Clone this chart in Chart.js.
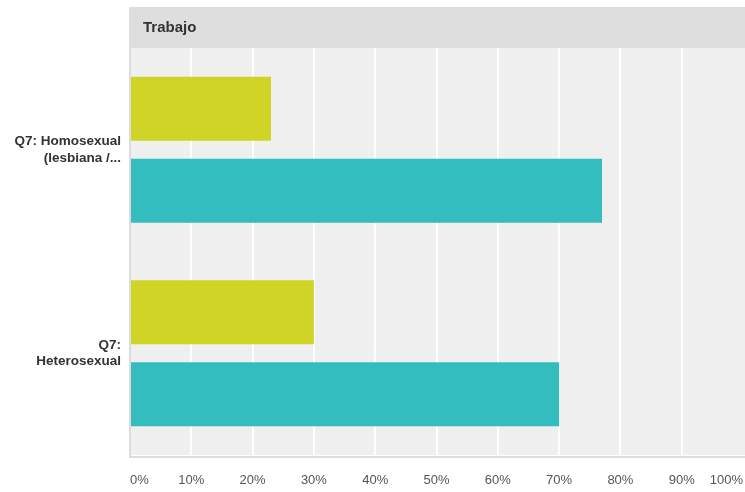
<!DOCTYPE html>
<html>
<head>
<meta charset="utf-8">
<script src="https://cdn.jsdelivr.net/npm/chart.js@4/dist/chart.umd.min.js"></script>
<style>
  html, body { margin: 0; padding: 0; background: #ffffff; }
  #wrap { position: relative; width: 745px; height: 492px; }
</style>
</head>
<body>
<div id="wrap"><canvas id="c" width="745" height="492"></canvas></div>
<script>
const headerTitle = 'Trabajo';
const categories = [['Q7: Homosexual', '(lesbiana /...'], ['Q7:', 'Heterosexual']];
const seriesNames = ['Respuesta A', 'Respuesta B'];
const seriesA = [23, 30];
const seriesB = [77, 70];
const xTicks = [0, 10, 20, 30, 40, 50, 60, 70, 80, 90, 100];

const headerPlugin = {
  id: 'header',
  beforeDraw(chart) {
    const ctx = chart.ctx, a = chart.chartArea;
    ctx.save();
    ctx.fillStyle = '#efefef';
    ctx.fillRect(a.left, a.top, chart.width - a.left, a.bottom - a.top);
    ctx.fillStyle = '#dedede';
    ctx.fillRect(a.left - 1, 7, chart.width - a.left + 1, a.top - 7);
    ctx.fillStyle = '#333333';
    ctx.font = 'bold 15px "Liberation Sans", Arial, sans-serif';
    ctx.textBaseline = 'alphabetic';
    ctx.textAlign = 'left';
    ctx.fillText(headerTitle, a.left + 13, 32);
    ctx.restore();
  },
  afterDatasetsDraw(chart) {
    const ctx = chart.ctx, a = chart.chartArea;
    ctx.save();
    ctx.strokeStyle = '#dcdcdc';
    ctx.lineWidth = 2;
    ctx.beginPath();
    ctx.moveTo(a.left, a.top);
    ctx.lineTo(a.left, a.bottom + 2);
    ctx.lineTo(chart.width, a.bottom + 2);
    ctx.stroke();
    ctx.restore();
  }
};

new Chart(document.getElementById('c'), {
  type: 'bar',
  data: {
    labels: categories,
    datasets: [
      { label: seriesNames[0], data: seriesA, backgroundColor: '#d0d427', borderWidth: 0 },
      { label: seriesNames[1], data: seriesB, backgroundColor: '#33bdbf', borderWidth: 0 }
    ]
  },
  options: {
    indexAxis: 'y',
    responsive: false,
    animation: false,
    devicePixelRatio: 1,
    categoryPercentage: 0.806,
    barPercentage: 0.78,
    layout: { padding: { top: 48, right: 2, left: 0, bottom: 0 } },
    plugins: { legend: { display: false }, tooltip: { enabled: false } },
    scales: {
      x: {
        min: 0, max: 100,
        afterBuildTicks(scale) { scale.ticks = xTicks.map(v => ({ value: v })); },
        afterFit(scale) { scale.height = 37; scale.paddingLeft = 0; scale.paddingRight = 0; },
        grid: {
          color: ctx => (ctx.tick && ctx.tick.value === 100) ? 'rgba(0,0,0,0)' : '#ffffff',
          lineWidth: 2,
          drawTicks: false
        },
        border: { display: false },
        ticks: {
          align: 'inner',
          padding: 18,
          color: '#555555',
          font: { family: '"Liberation Sans", Arial, sans-serif', size: 13 },
          callback: v => v + '%'
        }
      },
      y: {
        afterFit(scale) { scale.width = 130; scale.paddingTop = 0; scale.paddingBottom = 0; },
        grid: { display: false, drawTicks: false },
        border: { display: false },
        ticks: {
          padding: 9,
          color: '#333333',
          font: { family: '"Liberation Sans", Arial, sans-serif', size: 13.5, weight: 'bold', lineHeight: 1.25 }
        }
      }
    }
  },
  plugins: [headerPlugin]
});
</script>
</body>
</html>
